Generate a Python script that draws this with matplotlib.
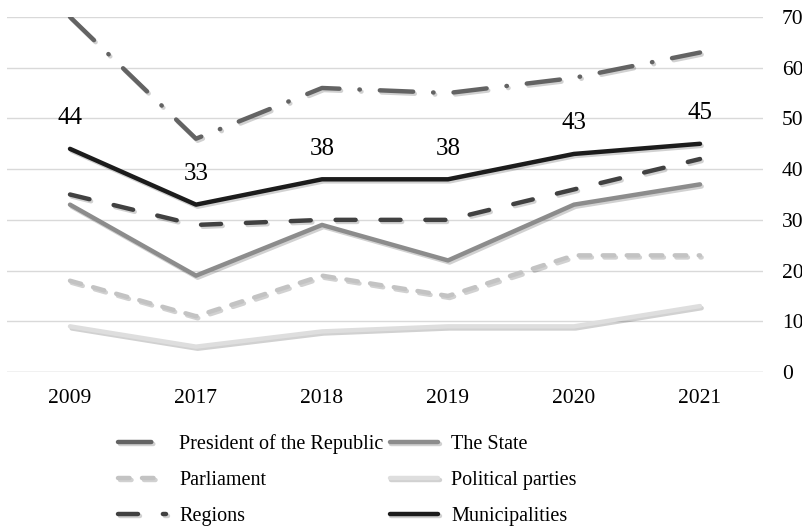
import matplotlib.pyplot as plt
import matplotlib.patheffects as pe

years = ["2009", "2017", "2018", "2019", "2020", "2021"]
president = [70, 46, 56, 55, 58, 63]
state = [33, 19, 29, 22, 33, 37]
parliament = [18, 11, 19, 15, 23, 23]
parties = [9, 5, 8, 9, 9, 13]
regions = [35, 29, 30, 30, 36, 42]
municipalities = [44, 33, 38, 38, 43, 45]
yticks = [0, 10, 20, 30, 40, 50, 60, 70]

plt.rcParams["font.family"] = ["Liberation Serif", "DejaVu Serif"]

fig = plt.figure(figsize=(8.03, 5.27), dpi=100)
ax = fig.add_axes([7 / 803, 1 - 372 / 527, 756 / 803, 355 / 527])

x = list(range(len(years)))
shadow = [pe.SimpleLineShadow(offset=(1.2, -1.5), shadow_color="black", alpha=0.18), pe.Normal()]
lw = 3.2

series = [
    ("President of the Republic", president, "#636363", (0, (7.5, 4.5, 0.1, 4.5))),
    ("The State", state, "#8c8c8c", "-"),
    ("Parliament", parliament, "#c3c3c3", (0, (2.6, 2.8))),
    ("Political parties", parties, "#dedede", "-"),
    ("Regions", regions, "#414141", (0, (4.5, 5.6))),
    ("Municipalities", municipalities, "#1c1c1c", "-"),
]
lines = {}
for name, vals, color, ls in series:
    (ln,) = ax.plot(x, vals, color=color, lw=lw, linestyle=ls, label=name,
                    solid_capstyle="round", dash_capstyle="round",
                    path_effects=shadow, zorder=3)
    lines[name] = ln

for xi, v in zip(x, municipalities):
    ax.annotate(str(v), (xi, v), xytext=(0, 22), textcoords="offset points",
                ha="center", va="center", fontsize=18, color="black")

ax.set_xlim(-0.5, len(years) - 0.5)
ax.set_ylim(0, 70)
ax.set_xticks(x)
ax.set_xticklabels(years, fontsize=15.5)
ax.set_yticks(yticks)
ax.yaxis.tick_right()
ax.set_yticklabels([str(t) for t in yticks], fontsize=15.5)
ax.tick_params(axis="y", length=0, pad=13.5)
ax.tick_params(axis="x", length=0, pad=12)
ax.grid(axis="y", color="#d9d9d9", lw=1.0)
ax.set_axisbelow(True)
for s in ax.spines.values():
    s.set_visible(False)
ax.axhline(0, color="#d9d9d9", lw=1.0, zorder=1)

order = ["President of the Republic", "Parliament", "Regions",
         "The State", "Political parties", "Municipalities"]
leg = fig.legend([lines[n] for n in order], order, ncol=2, frameon=False,
                 loc="upper left", bbox_to_anchor=(108 / 803, 1 - 424 / 527),
                 borderpad=0, fontsize=14.5, handlelength=2.4, handletextpad=0.65,
                 columnspacing=0.3, labelspacing=0.85)

fig.savefig("out.png", dpi=100)
